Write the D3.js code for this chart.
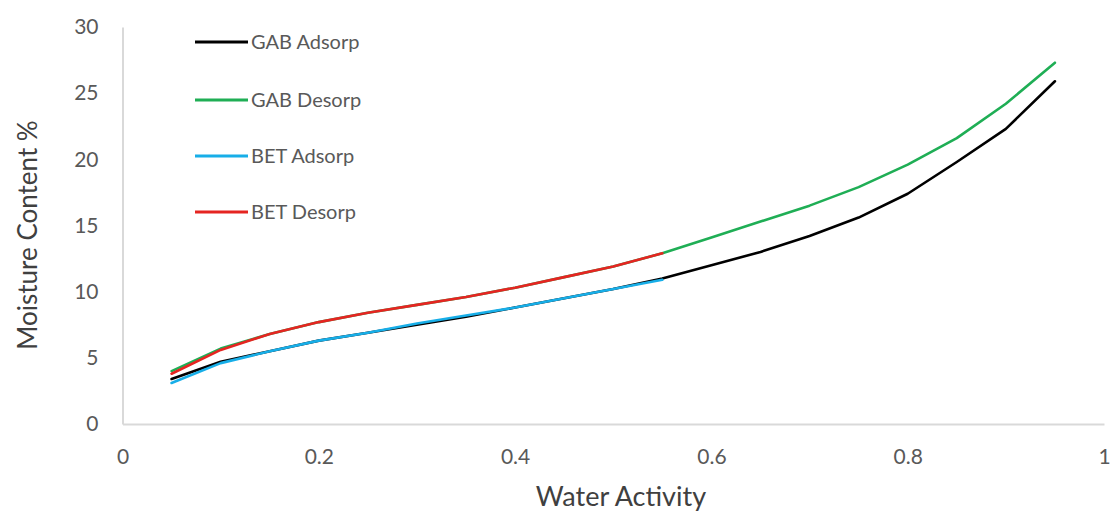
<!DOCTYPE html>
<html>
<head>
<meta charset="utf-8">
<script src="https://cdn.jsdelivr.net/npm/d3@7"></script>
<style>
  html, body { margin: 0; padding: 0; background: #fff; }
  svg { display: block; }
  text { font-family: Lato, "Open Sans", sans-serif; }
</style>
</head>
<body>
<svg id="chart" width="1112" height="513"></svg>
<script>
// Sorption isotherms: moisture content vs water activity
const waterActivity = [0.05, 0.10, 0.15, 0.20, 0.25, 0.30, 0.35, 0.40, 0.45, 0.50,
                       0.55, 0.60, 0.65, 0.70, 0.75, 0.80, 0.85, 0.90, 0.95];
const gabAdsorp = [3.4, 4.7, 5.5, 6.3, 6.9, 7.5, 8.1, 8.8, 9.5, 10.2,
                   11.0, 12.0, 13.0, 14.2, 15.6, 17.4, 19.8, 22.3, 25.9];
const gabDesorp = [4.0, 5.7, 6.8, 7.7, 8.4, 9.0, 9.6, 10.3, 11.1, 11.9,
                   12.9, 14.1, 15.3, 16.5, 17.9, 19.6, 21.6, 24.2, 27.3];
const betActivity = [0.05, 0.10, 0.15, 0.20, 0.25, 0.30, 0.35, 0.40, 0.45, 0.50, 0.55];
const betAdsorp = [3.1, 4.6, 5.5, 6.3, 6.9, 7.6, 8.2, 8.8, 9.5, 10.2, 10.9];
const betDesorp = [3.8, 5.6, 6.8, 7.7, 8.4, 9.0, 9.6, 10.3, 11.1, 11.9, 12.9];

const xTicks = [0, 0.2, 0.4, 0.6, 0.8, 1];
const yTicks = [0, 5, 10, 15, 20, 25, 30];
const seriesNames = ["GAB Adsorp", "GAB Desorp", "BET Adsorp", "BET Desorp"];
const seriesColors = ["#000000", "#1fae55", "#17aee8", "#e52521"];

const series = [
  { name: seriesNames[0], color: seriesColors[0], xs: waterActivity, ys: gabAdsorp },
  { name: seriesNames[1], color: seriesColors[1], xs: waterActivity, ys: gabDesorp },
  { name: seriesNames[2], color: seriesColors[2], xs: betActivity, ys: betAdsorp },
  { name: seriesNames[3], color: seriesColors[3], xs: betActivity, ys: betDesorp }
];

const svg = d3.select("#chart");
const plot = { left: 122.5, right: 1104, top: 27, bottom: 424 };

const x = d3.scaleLinear().domain([0, 1]).range([plot.left, plot.right]);
const y = d3.scaleLinear().domain([0, 30]).range([plot.bottom, plot.top]);

// Axes: light grey baseline, no tick marks
const xAxis = svg.append("g")
  .attr("transform", `translate(0,${plot.bottom})`)
  .call(d3.axisBottom(x).tickValues(xTicks).tickSize(0).tickPadding(25)
        .tickFormat(d => d === 0 || d === 1 ? d3.format("d")(d) : d3.format(".1f")(d)));
const yAxis = svg.append("g")
  .attr("transform", `translate(${plot.left},0)`)
  .call(d3.axisLeft(y).tickValues(yTicks).tickSize(0).tickPadding(24));

[xAxis, yAxis].forEach(g => {
  g.select(".domain").attr("stroke", "#d9d9d9").attr("stroke-width", 2);
  g.selectAll(".tick text")
    .attr("fill", "#595959")
    .style("font-size", "21px")
    .style("font-family", "Lato, 'Open Sans', sans-serif");
});

// Curves
const line = d3.line()
  .x(d => x(d[0]))
  .y(d => y(d[1]))
  .curve(d3.curveLinear);

series.forEach(s => {
  svg.append("path")
    .datum(s.xs.map((v, i) => [v, s.ys[i]]))
    .attr("fill", "none")
    .attr("stroke", s.color)
    .attr("stroke-width", 2.6)
    .attr("stroke-linejoin", "round")
    .attr("stroke-linecap", "round")
    .attr("d", line);
});

// Legend
const legend = svg.append("g");
const legendY = [42, 100, 156, 212];
series.forEach((s, i) => {
  const row = legend.append("g").attr("transform", `translate(0,${legendY[i]})`);
  row.append("line")
    .attr("x1", 195).attr("x2", 248)
    .attr("stroke", s.color).attr("stroke-width", 3);
  row.append("text")
    .attr("x", 251).attr("y", 0).attr("dy", "0.35em")
    .attr("fill", "#595959")
    .style("font-size", "20px")
    .text(s.name);
});

// Axis titles
svg.append("text")
  .attr("x", 621)
  .attr("y", 506)
  .attr("text-anchor", "middle")
  .attr("fill", "#404040")
  .style("font-size", "27px")
  .text("Water Activity");

svg.append("text")
  .attr("transform", `translate(37,235) rotate(-90)`)
  .attr("text-anchor", "middle")
  .attr("fill", "#404040")
  .style("font-size", "26px")
  .text("Moisture Content %");
</script>
</body>
</html>
